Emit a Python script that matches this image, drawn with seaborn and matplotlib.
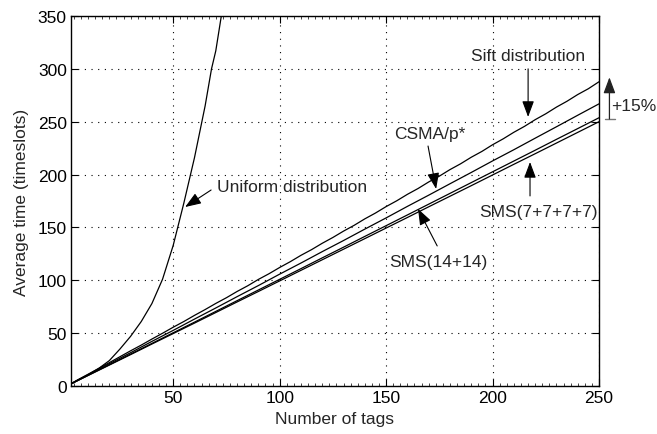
import numpy as np
import pandas as pd
import matplotlib
matplotlib.use("Agg")
import matplotlib.pyplot as plt
from matplotlib.ticker import MultipleLocator
import seaborn as sns

# ---- data ----
x_uniform = [2, 5, 10, 15, 20, 25, 30, 35, 40, 45, 50, 55, 60, 65, 68, 70, 73]
y_uniform = [2, 5.3, 10.6, 16.6, 24, 35, 47, 61, 78, 101, 133, 173, 216, 265, 300, 317, 355]

x_sift = [2, 5, 10, 15, 20, 25, 30, 35, 40, 45, 50, 55, 60, 65, 70, 75, 80, 85, 90, 95,
          100, 105, 110, 115, 120, 125, 130, 135, 140, 145, 150, 155, 160, 165, 170, 175,
          180, 185, 190, 195, 200, 205, 210, 215, 220, 225, 230, 235, 240, 245, 250]
y_sift = [2.2, 5.7, 11.1, 16.6, 22.1, 27.7, 33.3, 38.7, 44.4, 49.9, 55.6, 61.0, 66.8, 72.3,
          78.1, 83.5, 89.4, 94.8, 100.8, 106.2, 112.1, 117.6, 123.6, 129.0, 135.0, 140.5,
          146.5, 152.0, 158.1, 163.6, 169.7, 175.2, 181.3, 186.8, 193.0, 198.5, 204.7,
          210.2, 216.4, 221.9, 228.2, 233.8, 240.0, 245.6, 251.9, 257.5, 263.8, 269.4,
          275.7, 281.2, 287.8]

x_lin = [2, 10, 20, 30, 40, 50, 60, 70, 80, 90, 100, 110, 120, 130, 140, 150, 160, 170,
         180, 190, 200, 210, 220, 230, 240, 250]
y_csma = [2.1, 10.5, 21.1, 31.5, 42.2, 52.6, 63.3, 73.8, 84.5, 95.0, 105.8, 116.3, 127.1,
          137.6, 148.4, 159.0, 169.9, 180.5, 191.3, 202.0, 212.9, 223.5, 234.4, 245.2,
          256.1, 266.9]
y_sms14 = [2.0, 10.05, 20.1, 30.2, 40.3, 50.35, 60.4, 70.55, 80.7, 90.8, 100.9, 111.0,
           121.2, 131.3, 141.5, 151.65, 161.8, 172.0, 182.2, 192.4, 202.6, 212.8, 223.0,
           233.3, 243.5, 253.75]
y_sms7 = [1.98, 9.9, 19.8, 29.7, 39.7, 49.6, 59.5, 69.5, 79.5, 89.4, 99.4, 109.4, 119.4,
          129.4, 139.4, 149.4, 159.4, 169.5, 179.5, 189.5, 199.6, 209.7, 219.7, 229.8,
          239.9, 250.0]

x_ticks = [50, 100, 150, 200, 250]
y_ticks = [0, 50, 100, 150, 200, 250, 300, 350]

sns.set_theme(style="ticks")
plt.rcParams["font.family"] = ["Liberation Sans", "DejaVu Sans"]
plt.rcParams["xtick.direction"] = "in"
plt.rcParams["ytick.direction"] = "in"

fig = plt.figure(figsize=(6.57, 4.35), dpi=100)
ax = fig.add_axes([71 / 657, 1 - 387 / 435, (599 - 71) / 657, (387 - 17) / 435])

series = [(x_uniform, y_uniform), (x_sift, y_sift), (x_lin, y_csma),
          (x_lin, y_sms14), (x_lin, y_sms7)]
for xs, ys in series:
    sns.lineplot(x=xs, y=ys, ax=ax, color="black", linewidth=0.9, sort=False)

fs = 12.5
ax.set_xlim(2, 250)
ax.set_ylim(0, 350)
ax.set_xticks(x_ticks)
ax.set_yticks(y_ticks)
ax.xaxis.set_minor_locator(MultipleLocator(10 / 3))
ax.tick_params(axis="both", which="major", labelsize=fs, length=5, width=0.8,
               top=True, right=True, colors="black", pad=3)
ax.tick_params(axis="x", which="minor", length=2.5, width=0.6, top=True)
ax.grid(True, which="major", linestyle=(0, (1, 5)), color="black", linewidth=0.8)
for s in ax.spines.values():
    s.set_linewidth(1.0)
    s.set_color("black")
    s.set_visible(True)

ax.set_xlabel("Number of tags", fontsize=fs, labelpad=4)
ax.set_ylabel("Average time (timeslots)", fontsize=fs, labelpad=6)

arr = dict(arrowstyle="-|>,head_length=0.75,head_width=0.28", color="black",
           lw=0.8, mutation_scale=13, shrinkA=0, shrinkB=0)

ax.annotate("", xy=(55.6, 169.3), xytext=(67.8, 185.4), arrowprops=arr)
ax.text(70.7, 188.3, "Uniform distribution", fontsize=fs, va="center", ha="left")

ax.annotate("", xy=(216.7, 254.5), xytext=(216.7, 300.0), arrowprops=arr)
ax.text(216.7, 312.2, "Sift distribution", fontsize=fs, va="center", ha="center")

ax.annotate("", xy=(173.5, 186.4), xytext=(169.7, 227.0), arrowprops=arr)
ax.text(170.7, 238.4, "CSMA/p*", fontsize=fs, va="center", ha="center")

ax.annotate("", xy=(217.6, 211.9), xytext=(217.6, 179.8), arrowprops=arr)
ax.text(221.4, 164.6, "SMS(7+7+7+7)", fontsize=fs, va="center", ha="center")

ax.annotate("", xy=(165.0, 167.5), xytext=(174.0, 132.5), arrowprops=arr)
ax.text(174.4, 117.3, "SMS(14+14)", fontsize=fs, va="center", ha="center")

arr2 = dict(arrowstyle="-|>,head_length=0.75,head_width=0.28", color="#222222",
            lw=0.9, mutation_scale=13, shrinkA=0, shrinkB=0)
ax.annotate("", xy=(254.9, 292.0), xytext=(254.9, 252.6), arrowprops=arr2,
            annotation_clip=False)
ax.plot([252.8, 257.5], [252.6, 252.6], color="#777777", lw=1.0, clip_on=False)
ax.text(255.6, 265.5, "+15%", fontsize=fs, va="center", ha="left", clip_on=False)

fig.savefig("out.png", dpi=100)
